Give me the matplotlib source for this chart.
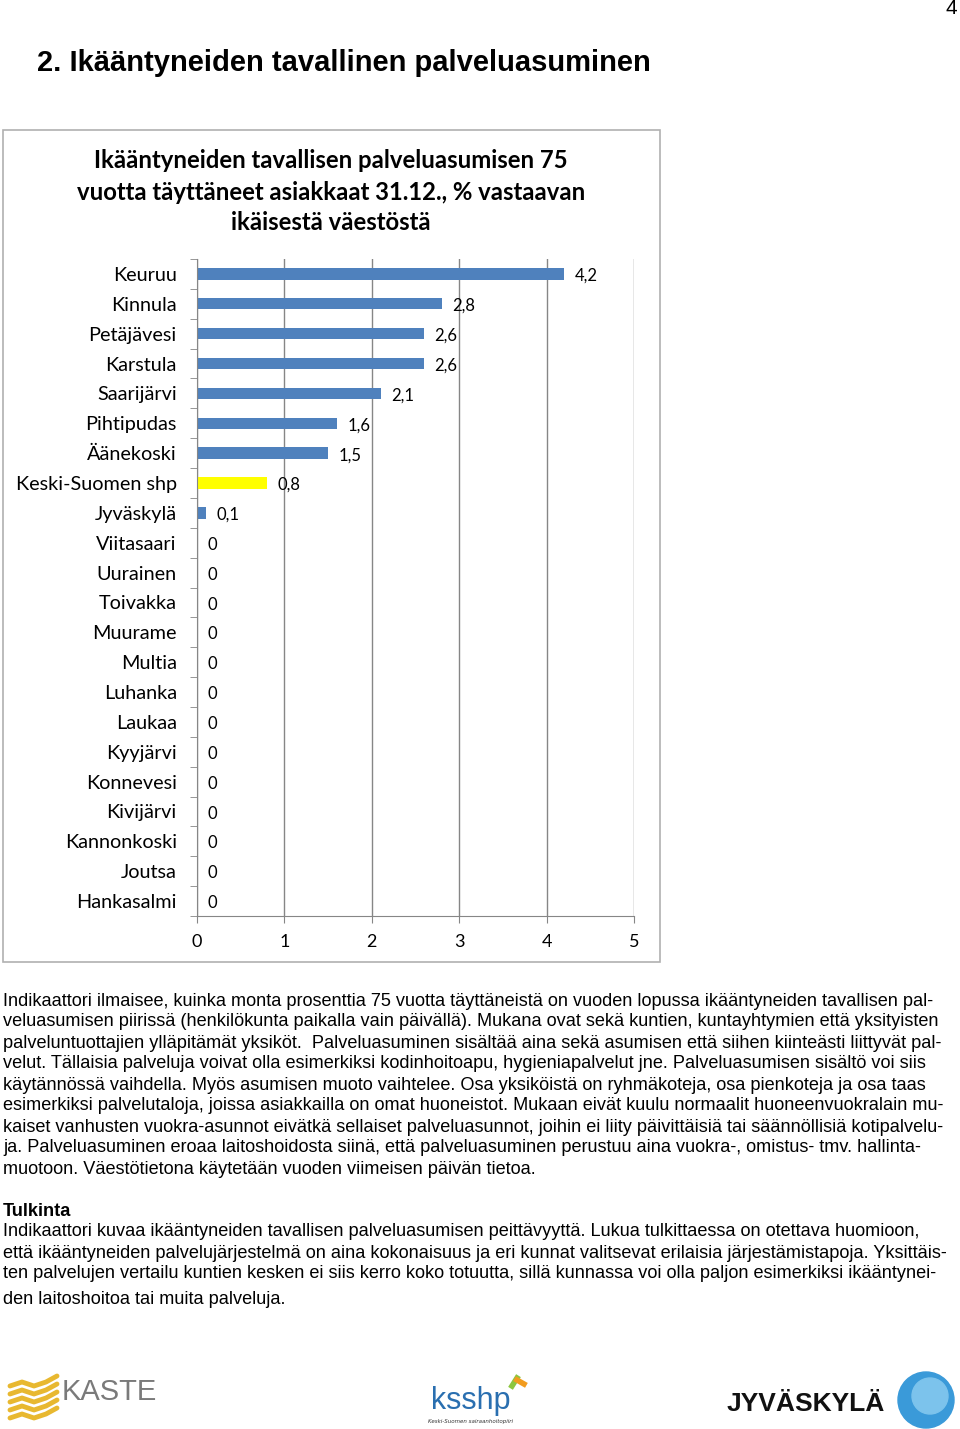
import numpy as np
import matplotlib
matplotlib.use("Agg")
import matplotlib.pyplot as plt
from matplotlib.patches import Rectangle, Circle

# data
kunnat = ["Keuruu", "Kinnula", "Petäjävesi", "Karstula", "Saarijärvi", "Pihtipudas",
          "Äänekoski", "Keski-Suomen shp", "Jyväskylä", "Viitasaari", "Uurainen",
          "Toivakka", "Muurame", "Multia", "Luhanka", "Laukaa", "Kyyjärvi",
          "Konnevesi", "Kivijärvi", "Kannonkoski", "Joutsa", "Hankasalmi"]
arvot = [4.2, 2.8, 2.6, 2.6, 2.1, 1.6, 1.5, 0.8, 0.1, 0, 0, 0, 0, 0, 0, 0, 0, 0, 0, 0, 0, 0]
korostus = "Keski-Suomen shp"
xticks = [0, 1, 2, 3, 4, 5]

otsikko = "2. Ikääntyneiden tavallinen palveluasuminen"
kaavion_otsikko = ["Ikääntyneiden tavallisen palveluasumisen 75",
                   "vuotta täyttäneet asiakkaat 31.12., % vastaavan",
                   "ikäisestä väestöstä"]
selite = [
    "Indikaattori ilmaisee, kuinka monta prosenttia 75 vuotta täyttäneistä on vuoden lopussa ikääntyneiden tavallisen pal-",
    "veluasumisen piirissä (henkilökunta paikalla vain päivällä). Mukana ovat sekä kuntien, kuntayhtymien että yksityisten",
    "palveluntuottajien ylläpitämät yksiköt.  Palveluasuminen sisältää aina sekä asumisen että siihen kiinteästi liittyvät pal-",
    "velut. Tällaisia palveluja voivat olla esimerkiksi kodinhoitoapu, hygieniapalvelut jne. Palveluasumisen sisältö voi siis",
    "käytännössä vaihdella. Myös asumisen muoto vaihtelee. Osa yksiköistä on ryhmäkoteja, osa pienkoteja ja osa taas",
    "esimerkiksi palvelutaloja, joissa asiakkailla on omat huoneistot. Mukaan eivät kuulu normaalit huoneenvuokralain mu-",
    "kaiset vanhusten vuokra-asunnot eivätkä sellaiset palveluasunnot, joihin ei liity päivittäisiä tai säännöllisiä kotipalvelu-",
    "ja. Palveluasuminen eroaa laitoshoidosta siinä, että palveluasuminen perustuu aina vuokra-, omistus- tmv. hallinta-",
    "muotoon. Väestötietona käytetään vuoden viimeisen päivän tietoa.",
]
tulkinta = [
    "Indikaattori kuvaa ikääntyneiden tavallisen palveluasumisen peittävyyttä. Lukua tulkittaessa on otettava huomioon,",
    "että ikääntyneiden palvelujärjestelmä on aina kokonaisuus ja eri kunnat valitsevat erilaisia järjestämistapoja. Yksittäis-",
    "ten palvelujen vertailu kuntien kesken ei siis kerro koko totuutta, sillä kunnassa voi olla paljon esimerkiksi ikääntynei-",
    "den laitoshoitoa tai muita palveluja.",
]

W, H = 960, 1429
fig = plt.figure(figsize=(9.6, 14.29), dpi=100)

def px(x, y):
    return x / W, 1 - y / H

body = ["Liberation Sans", "DejaVu Sans"]
cal = ["Lato", "DejaVu Sans"]

# page number + heading
fig.text(*px(951, 8), "4", fontsize=15, family=body, ha="center", va="center")
fig.text(*px(37, 63), otsikko, fontsize=21, family=body, weight="bold", va="center")

# chart frame
fig.patches.append(Rectangle(px(3, 962), 657 / W, 832 / H, transform=fig.transFigure,
                             fill=False, edgecolor="#b0b0b0", lw=1.2))
for i, t in enumerate(kaavion_otsikko):
    fig.text(*px(331, 161 + i * 31), t, fontsize=17.2, family=cal, weight="bold",
             ha="center", va="center")

ax = fig.add_axes([197 / W, 1 - 916 / H, 437 / W, 657 / H])
ypos = np.arange(len(kunnat))
colors = ["#FFFF00" if k == korostus else "#4F81BD" for k in kunnat]
ax.barh(ypos, arvot, height=0.38, color=colors)
ax.set_xlim(0, 5)
ax.set_ylim(len(kunnat) - 0.5, -0.5)
ax.set_xticks(xticks)
ax.set_xticklabels([str(t) for t in xticks], fontsize=13, family=cal)
ax.set_yticks(ypos)
ax.set_yticklabels(kunnat, fontsize=14.3, family=cal)
ax.set_yticks(np.arange(-0.5, len(kunnat)), minor=True)
ax.tick_params(axis="y", which="major", length=0, pad=14.5)
ax.tick_params(axis="y", which="minor", length=5, color="#868686")
ax.tick_params(axis="x", length=5, color="#868686", pad=8)
ax.grid(axis="x", color="#868686", lw=1)
ax.set_axisbelow(True)
for s in ["top", "right"]:
    ax.spines[s].set_visible(False)
for s in ["left", "bottom"]:
    ax.spines[s].set_color("#868686")

for y, v in zip(ypos, arvot):
    lab = "0" if v == 0 else f"{v:.1f}".replace(".", ",")
    ax.annotate(lab, (v, y), xytext=(7.5, -1.5), textcoords="offset points",
                fontsize=12, family=cal, va="center", ha="left")

# body text
for i, t in enumerate(selite):
    fig.text(*px(3, 1001 + i * 21), t, fontsize=13.1, family=body, va="center")
fig.text(*px(3, 1211), "Tulkinta", fontsize=13.1, family=body, weight="bold", va="center")
for i, t in enumerate(tulkinta):
    yy = [1232, 1253, 1274, 1299][i]
    fig.text(*px(3, yy), t, fontsize=13.1, family=body, va="center")

# logos (rough)
lax = fig.add_axes([0, 0, 1, 1], facecolor="none")
lax.set_xlim(0, W)
lax.set_ylim(H, 0)
lax.axis("off")
for k in range(5):
    yy = 1382 + k * 8
    lax.plot([10, 22, 34, 46, 57], [yy + 4, yy, yy + 4, yy, yy - 6],
             color="#E8B830", lw=3.5, solid_capstyle="round")
lax.text(62, 1392, "KASTE", fontsize=21, family=body, color="#7a7a7a", va="center")
lax.text(431, 1401, "ksshp", fontsize=22, family=body, color="#2a6fb0", va="center")
lax.plot([512, 517], [1386, 1378], color="#8cc63f", lw=4)
lax.plot([517, 524], [1380, 1384], color="#f29c1f", lw=4)
lax.text(470, 1421, "Keski-Suomen sairaanhoitopiiri", fontsize=4, style="italic",
         ha="center", va="center", color="#333333")
lax.text(727, 1404, "JYVÄSKYLÄ", fontsize=19, family=body, weight="bold",
         color="#111111", va="center")
lax.add_patch(Circle((926, 1400), 28, color="#3a9ad9"))
lax.add_patch(Circle((930, 1396), 18, color="#7cc3ec"))

fig.savefig("out.png", dpi=100)
